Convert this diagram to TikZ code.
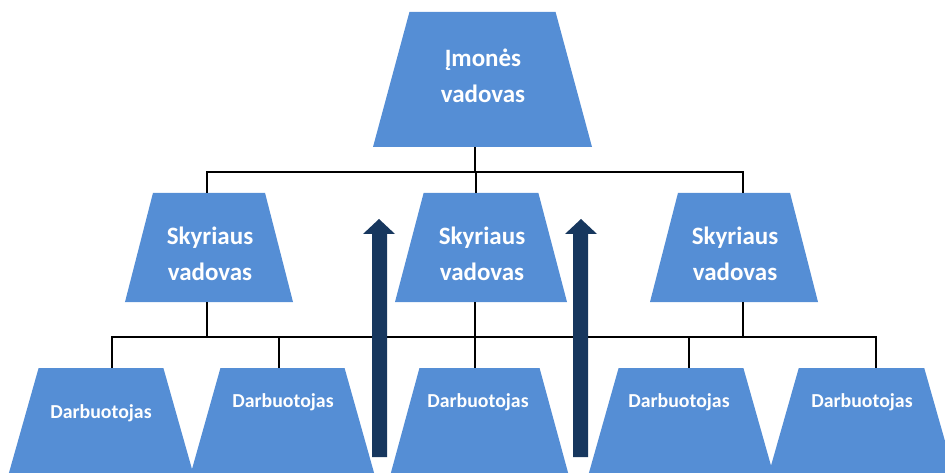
\documentclass[tikz,border=0pt]{standalone}
\usepackage{fontspec}
\setmainfont{Carlito}
\usetikzlibrary{shapes.geometric}
\definecolor{boxblue}{HTML}{558ED5}
\definecolor{navy}{HTML}{17375E}
\tikzset{
  trap/.style={trapezium, trapezium stretches=true, trapezium left angle=76, trapezium right angle=76,
    fill=boxblue, draw=none, inner sep=2pt, outer sep=0pt},
  bigtxt/.style={text=white, font=\bfseries\fontsize{25}{36}\selectfont, align=center, inner sep=0pt},
  smalltxt/.style={text=white, font=\bfseries\fontsize{19.8}{22}\selectfont, inner sep=0pt},
  conn/.style={draw=black, line width=1.5pt},
  uparrow/.style={fill=navy, draw=none}
}
\begin{document}
\begin{tikzpicture}[x=1pt, y=-1pt]
\useasboundingbox (0,0) rectangle (945,473);
\clip (0,0) rectangle (945,473);
% top
\node[trap, minimum width=219pt, minimum height=135pt] (top) at (482.5,79.5) {};
\node[bigtxt] (toptxt) at (483,76) {Įmonės\\vadovas};
% middle level
\node[trap, minimum width=168pt, minimum height=109pt] (sL) at (209,247.5) {};
\node[trap, minimum width=172pt, minimum height=109pt] (sM) at (481,247.5) {};
\node[trap, minimum width=168pt, minimum height=109pt] (sR) at (734,247.5) {};
\node[bigtxt] (sLt) at (210,254) {Skyriaus\\vadovas};
\node[bigtxt] (sMt) at (482,254) {Skyriaus\\vadovas};
\node[bigtxt] (sRt) at (735,254) {Skyriaus\\vadovas};
% bottom level
\node[trap, minimum width=187pt, minimum height=110pt] (w1) at (101,423) {};
\node[trap, minimum width=186pt, minimum height=110pt] (w2) at (282.5,423) {};
\node[trap, minimum width=180pt, minimum height=110pt] (w3) at (479.5,423) {};
\node[trap, minimum width=187pt, minimum height=110pt] (w4) at (681,423) {};
\node[trap, minimum width=188pt, minimum height=110pt] (w5) at (861.5,423) {};
\node[smalltxt] (w1t) at (101,413) {Darbuotojas};
\node[smalltxt] (w2t) at (283,402) {Darbuotojas};
\node[smalltxt] (w3t) at (478,402) {Darbuotojas};
\node[smalltxt] (w4t) at (679,402) {Darbuotojas};
\node[smalltxt] (w5t) at (862,402) {Darbuotojas};
% connector junctions
\coordinate (b0) at (475,172);
\coordinate (cL) at (207,172);
\coordinate (cM) at (476,172);
\coordinate (cR) at (743,172);
\coordinate (dL) at (207,337);
\coordinate (dM) at (475,337);
\coordinate (dR) at (743,337);
\coordinate (e1) at (112,337);
\coordinate (e2) at (279,337);
\coordinate (e4) at (689,337);
\coordinate (e5) at (876,337);
\draw[conn] (b0 |- top.south) -- (b0);
\draw[conn] (cL |- sL.north) -- (cL) -- (cR) -- (cR |- sR.north);
\draw[conn] (cM) -- (cM |- sM.north);
\draw[conn] (dL |- sL.south) -- (dL);
\draw[conn] (dM |- sM.south) -- (dM |- w3.north);
\draw[conn] (dR |- sR.south) -- (dR);
\draw[conn] (e1 |- w1.north) -- (e1) -- (e5) -- (e5 |- w5.north);
\draw[conn] (e2) -- (e2 |- w2.north);
\draw[conn] (e4) -- (e4 |- w4.north);
% arrows
\fill[uparrow] (372,457) -- (372,234) -- (363,234) -- (379,219) -- (395,234) -- (387,234) -- (387,457) -- cycle;
\fill[uparrow] (573,457) -- (573,234) -- (565,234) -- (581,219) -- (597,234) -- (588,234) -- (588,457) -- cycle;
\end{tikzpicture}
\end{document}
